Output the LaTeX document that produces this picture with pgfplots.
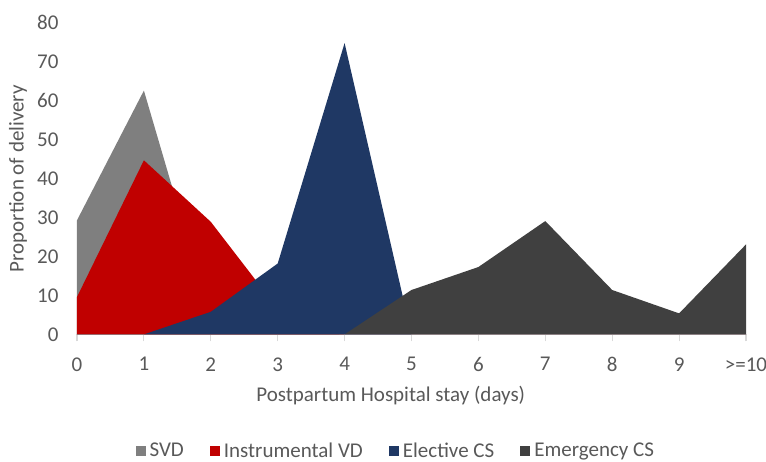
\documentclass[border=0pt]{standalone}
\usepackage{pgfplots}
\pgfplotsset{compat=1.18}
\usepackage{fontspec}
\setmainfont{Carlito}
\definecolor{svd}{HTML}{7F7F7F}
\definecolor{ivd}{HTML}{C00000}
\definecolor{ecs}{HTML}{1F3864}
\definecolor{emcs}{HTML}{404040}
\definecolor{txt}{HTML}{595959}
\definecolor{axl}{HTML}{D9D9D9}
\begin{document}
\begin{tikzpicture}
\begin{axis}[
  at={(0,0)}, anchor=south west,
  scale only axis, width=334.5pt, height=155.8pt,
  xmin=0, xmax=10, ymin=0, ymax=80,
  axis x line=bottom, axis y line=left,
  axis line style={-},
  x axis line style={draw=axl, line width=0.6pt},
  y axis line style={draw=none},
  xtick={0,1,2,3,4,5,6,7,8,9,10},
  xticklabels={0,1,2,3,4,5,6,7,8,9,{>=10}},
  ytick={0,10,...,80},
  xtick align=outside,
  major tick length=3.5pt,
  xtick style={draw=axl, line width=0.6pt},
  ytick style={draw=none},
  tick label style={font=\fontsize{10.5}{12}\selectfont, text=txt},
  /pgf/number format/assume math mode=true,
  yticklabel style={xshift=-4pt},
  xticklabel style={yshift=-4.5pt},
  xlabel={Postpartum Hospital stay (days)},
  ylabel={Proportion of delivery},
  label style={font=\fontsize{10.5}{12}\selectfont, text=txt},
  xlabel style={at={(axis description cs:0.469,0)}, anchor=center, yshift=-30.5pt},
  ylabel style={at={(axis description cs:-0.0882,0.5)}, anchor=center},
  legend columns=4,
  legend style={draw=none, inner sep=1pt, at={(axis description cs:0.478,0)}, anchor=center, yshift=-58.5pt,
    font=\fontsize{10.5}{12}\selectfont, text=txt,
    /tikz/every even column/.append style={column sep=11pt},
    /tikz/every odd column/.append style={column sep=0pt},
    legend cell align=left},
  legend image code/.code={\fill[#1] (0pt,-2.5pt) rectangle (5pt,2.5pt);},
]
\addplot[fill=svd, draw=none] coordinates {(0,29.3) (1,62.6) (2,4) (3,0.5) (4,0) (5,0) (6,0) (7,0) (8,0) (9,0) (10,0)} \closedcycle;
\addplot[fill=ivd, draw=none] coordinates {(0,9.6) (1,44.7) (2,28.9) (3,6.6) (4,0) (5,0) (6,0) (7,0) (8,0) (9,0) (10,0)} \closedcycle;
\addplot[fill=ecs, draw=none] coordinates {(0,0) (1,0) (2,5.8) (3,18.2) (4,74.8) (5,0) (6,0) (7,0) (8,0) (9,0) (10,0)} \closedcycle;
\addplot[fill=emcs, draw=none] coordinates {(0,0) (1,0) (2,0) (3,0) (4,0) (5,11.4) (6,17.3) (7,29.1) (8,11.4) (9,5.4) (10,23.1)} \closedcycle;
\legend{SVD, Instrumental VD, Elective CS, Emergency CS}
\end{axis}
\pgfresetboundingbox
\path[use as bounding box] (-38.5pt,-63.3pt) rectangle (344.5pt,167.2pt);
\end{tikzpicture}
\end{document}
